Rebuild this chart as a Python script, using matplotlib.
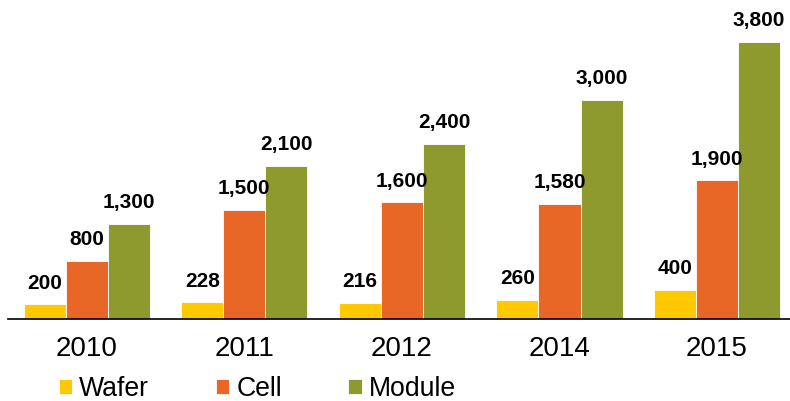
import matplotlib
matplotlib.use("Agg")
import matplotlib.pyplot as plt
import numpy as np

years = ["2010", "2011", "2012", "2014", "2015"]
series_names = ["Wafer", "Cell", "Module"]
wafer = [200, 228, 216, 260, 400]
cell = [800, 1500, 1600, 1580, 1900]
module = [1300, 2100, 2400, 3000, 3800]
colors = ["#FFC900", "#E96726", "#8F9A2E"]

plt.rcParams['font.family'] = ['Liberation Sans', 'DejaVu Sans']

W, H = 790, 401
fig = plt.figure(figsize=(W/100, H/100), dpi=100)
ymax = 4300
ax_h_px = ymax * 0.0729
bottom_px = 319
ax = fig.add_axes([8/W, 1 - bottom_px/H, 1 - 8/W, ax_h_px/H])

x = np.arange(len(years))
bw = 0.267
data = [wafer, cell, module]
for i, (vals, name, c) in enumerate(zip(data, series_names, colors)):
    pos = x + (i - 1) * bw
    bars = ax.bar(pos, vals, width=bw, color=c, edgecolor="white", linewidth=0.6, label=name)
    for b, v in zip(bars, vals):
        ax.annotate(f"{v:,}", (b.get_x() + b.get_width()/2, v), xytext=(0, 8.5),
                    textcoords="offset points", ha="center", va="bottom",
                    fontsize=15, fontweight="bold", color="black")

ax.set_xlim(-0.5, 4.463)
ax.set_ylim(0, ymax)
ax.set_xticks(x)
ax.set_xticklabels(years, fontsize=20)
ax.tick_params(axis="x", length=0, pad=12)
ax.set_yticks([])
for s in ["top", "right", "left"]:
    ax.spines[s].set_visible(False)
ax.spines["bottom"].set_linewidth(1.2)

handles, labels = ax.get_legend_handles_labels()
fig.legend(handles, labels, loc="center left", bbox_to_anchor=(59/W, 1 - 389/H),
           ncol=3, frameon=False, fontsize=19.2, handlelength=0.5, handleheight=0.5,
           handletextpad=0.26, columnspacing=2.5, borderpad=0, borderaxespad=0)

fig.savefig("out.png", dpi=100)
